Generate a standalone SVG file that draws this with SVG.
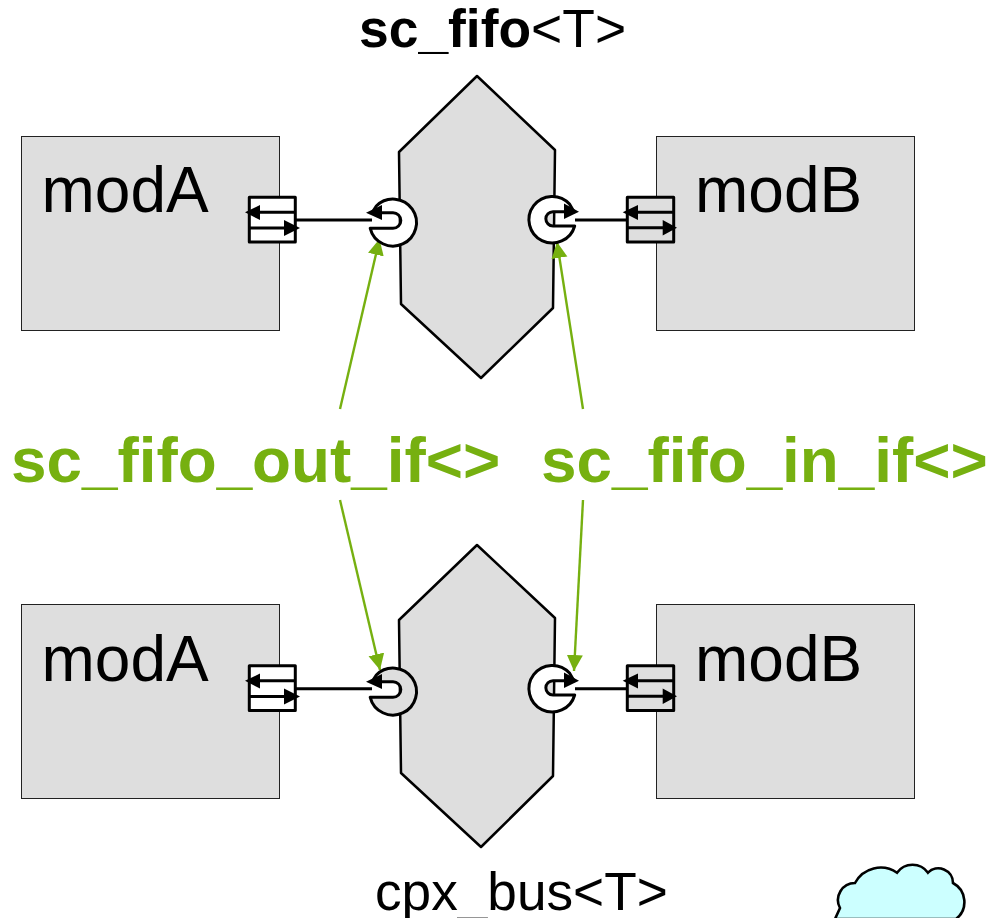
<svg xmlns="http://www.w3.org/2000/svg" width="987" height="918" viewBox="0 0 987 918">
<style>
text{font-family:"Liberation Sans",Arial,sans-serif;fill:#000}
.mod{fill:#dedede;stroke:#222;stroke-width:1}
.hex{fill:#dedede;stroke:#000;stroke-width:2.5;stroke-linejoin:round}
.ln{fill:none;stroke:#000;stroke-width:3}
.port{stroke:#000;stroke-width:3;stroke-linejoin:round}
.hd{fill:#000;stroke:none}
.ifc{stroke:#000;stroke-width:3;stroke-linejoin:round}
.gr{fill:none;stroke:#76b010;stroke-width:2.4}
.lab{font-size:64px}
.green{font-size:63.8px;font-weight:bold;fill:#76b010}
</style>
<defs>
<marker id="ga" markerUnits="userSpaceOnUse" markerWidth="18" markerHeight="18" refX="16" refY="8" orient="auto"><path d="M0 0L16 8L0 16Z" fill="#76b010"/></marker>
<g id="lport"><rect class="port" fill="#fff" x="249.3" y="197.3" width="46" height="44.7"/><path class="ln" d="M295 212.3H258M249 228H288"/><path class="hd" d="M245 212.3L260 205V220ZM300 228L284 220V236Z"/></g>
<g id="rport"><rect class="port" fill="#dedede" x="627.3" y="197.3" width="46.4" height="44.7"/><path class="ln" d="M673 212.3H635M627 227.7H665"/><path class="hd" d="M622.7 212.3L638 205V220ZM677 227.7L662.7 220V235.5Z"/></g>
<g id="lif"><path class="ifc" d="M372 212.7L376.3 206A23.5 23.5 0 1 1 370.2 228.3L393 228.3A7.8 7.8 0 0 0 393 212.7Z"/><path class="hd" d="M366 212.7L382 205V220Z"/></g>
<g id="rif"><path class="ifc" d="M574 211.7L569.5 204A23.3 23.3 0 1 0 574.7 226L553 226A7.15 7.15 0 0 1 553 211.7Z"/><path class="hd" d="M579 211.7L564 203.5V219Z"/></g>
</defs>
<g id="modA-top"><rect class="mod" x="21.5" y="136.5" width="258" height="194"/><text class="lab" x="41.5" y="212">modA</text></g>
<g id="modB-top"><rect class="mod" x="656.5" y="136.5" width="258" height="194"/><text class="lab" x="695" y="212">modB</text></g>
<g id="modA-bottom"><rect class="mod" x="21.5" y="604.5" width="258" height="194"/><text class="lab" x="41.5" y="680.5">modA</text></g>
<g id="modB-bottom"><rect class="mod" x="656.5" y="604.5" width="258" height="194"/><text class="lab" x="695" y="680.5">modB</text></g>
<g id="fifo"><path class="hex" d="M477 76L555 150L553 308L481 378L401 304L399 152Z"/><text x="359" y="47" font-size="53.4"><tspan font-weight="bold">sc_fifo</tspan>&lt;T&gt;</text></g>
<g id="bus"><path class="hex" d="M477 545L555 618L553 776L481 847L401 773L399 620Z"/><text x="375" y="910" font-size="53.2">cpx_bus&lt;T&gt;</text></g>
<g id="port-a-top"><use href="#lport"/></g>
<g id="port-b-top"><use href="#rport"/></g>
<g id="port-a-bottom"><use href="#lport" y="468.5"/></g>
<g id="port-b-bottom"><use href="#rport" y="468.5"/></g>
<g id="connectors">
<path class="ln" d="M296 220H372M575 220H627M296 688.7H372M575 688.7H627"/>
<path class="gr" marker-end="url(#ga)" d="M340 409L379.5 239"/>
<path class="gr" marker-end="url(#ga)" d="M583 409L557 242"/>
<path class="gr" marker-end="url(#ga)" d="M340 500L380 670"/>
<path class="gr" marker-end="url(#ga)" d="M583 500L574 671"/>
</g>
<g id="if-out-top"><use href="#lif" fill="#fff"/></g>
<g id="if-in-top"><use href="#rif" fill="#fff"/></g>
<g id="if-out-bottom"><use href="#lif" y="469" fill="#dedede"/></g>
<g id="if-in-bottom"><use href="#rif" y="469" fill="#fff"/></g>
<g id="labels"><text class="green" x="11" y="482">sc_fifo_out_if&lt;&gt;</text><text class="green" x="541" y="482">sc_fifo_in_if&lt;&gt;</text></g>
<g id="cloud"><path fill="#ccffff" stroke="#000" stroke-width="2.6" d="M835 919L840 908A17 17 0 0 1 855 883A29 29 0 0 1 897 872.7A19 19 0 0 1 928 872.7A14.6 14.6 0 0 1 953 883A21.5 21.5 0 0 1 956 919Z"/></g>
</svg>
